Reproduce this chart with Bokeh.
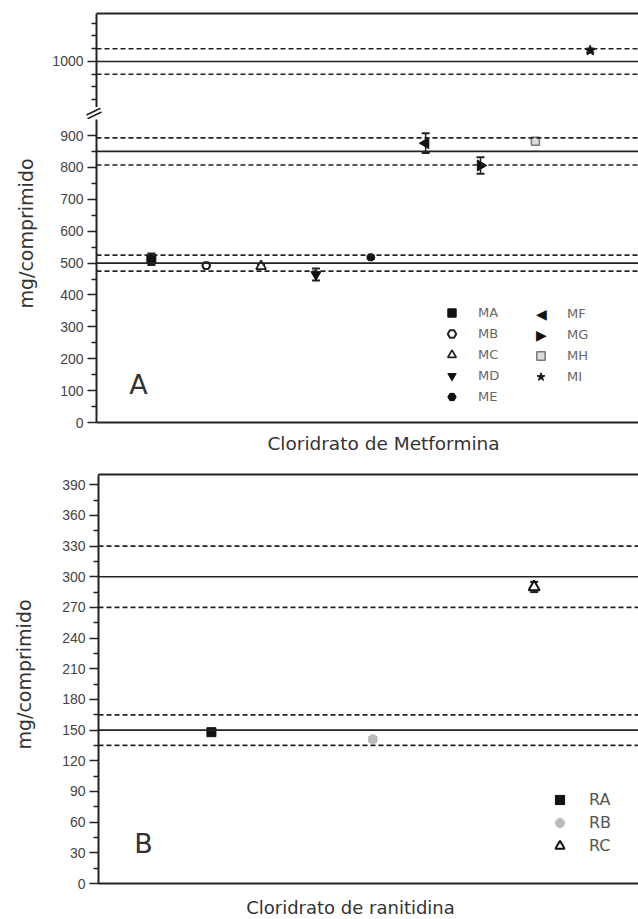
import math
from bokeh.plotting import figure
from bokeh.models import (Range1d, LinearAxis, FixedTicker, Span, Label, Legend,
                          LegendItem, ColumnDataSource, Spacer)
from bokeh.layouts import column, row
from bokeh.embed import file_html
from bokeh.resources import INLINE

# ---------------- data ----------------
met_labels = ["MA", "MB", "MC", "MD", "ME", "MF", "MG", "MH", "MI"]
met_x = [1, 2, 3, 4, 5, 6, 7, 8, 9]
met_values = [512, 492, 490, 464, 518, 876, 806, 882, 1043]
met_err = [18, 6, 5, 19, 5, 31, 26, 4, 8]
met_nominal = [500, 850, 1000]
met_limits = [475, 525, 807.5, 892.5, 950, 1050]
met_lower_ticks = [0, 100, 200, 300, 400, 500, 600, 700, 800, 900]
met_lower_minor = [50, 150, 250, 350, 450, 550, 650, 750, 850]
met_upper_ticks = [1000]
met_upper_minor = [850, 900, 950, 1050, 1100, 1150]
met_split = 940  # axis break: values above it belong to the upper segment

ran_labels = ["RA", "RB", "RC"]
ran_x = [1, 2, 3]
ran_values = [148, 141, 290]
ran_err = [2, 2, 5]
ran_nominal = [150, 300]
ran_limits = [135, 165, 270, 330]
ran_ticks = [0, 30, 60, 90, 120, 150, 180, 210, 240, 270, 300, 330, 360, 390]
ran_minor = [15, 45, 75, 105, 135, 165, 195, 225, 255, 285, 315, 345, 375]

# ---------------- styles / layout constants ----------------
INK = "#222222"
TICK_FONT = "Liberation Sans"
TITLE_FONT = "DejaVu Sans"
met_markers = ["square", "hex", "triangle", "inverted_triangle", "hex",
               "triangle", "triangle", "square", "star"]
met_angles = [0, 0, 0, 0, 0, math.pi / 2, -math.pi / 2, 0, 0]
met_fill = ["#111111", "#ffffff", "#ffffff", "#111111", "#111111",
            "#111111", "#111111", "#dddddd", "#111111"]
met_line = ["#111111", "#222222", "#222222", "#111111", "#111111",
            "#111111", "#111111", "#777777", "#111111"]
met_size = [9, 8, 10, 10, 8, 11, 11, 8, 11]
met_lw = [1, 2, 1.8, 1, 1, 1, 1, 1.5, 1]
met_legend_symbol = {5: "\u25C0", 6: "\u25B6"}  # legend glyphs for the rotated markers

ran_markers = ["square", "circle", "triangle"]
ran_fill = ["#111111", "#bbbbbb", "#ffffff"]
ran_line = ["#111111", "#bbbbbb", "#111111"]
ran_size = [9, 9, 11]
ran_lw = [1, 1, 2]

W = 638
# axis-break decoration (page pixels inside the break strip)
BREAK_X0 = [86, 87]
BREAK_Y0 = [114.5, 118.2]
BREAK_X1 = [100, 101]
BREAK_Y1 = [107.8, 111.5]


def base_fig(fw, fh, xr, yr, left, top, bottom):
    p = figure(frame_width=fw, frame_height=fh, x_range=xr, y_range=yr,
               min_border_left=left, min_border_right=0, min_border_top=top,
               min_border_bottom=bottom, x_axis_location=None, y_axis_location=None,
               toolbar_location=None, output_backend="svg")
    p.outline_line_color = None
    p.background_fill_color = "white"
    p.border_fill_color = "white"
    p.grid.visible = False
    return p


def strip(x0, width, y0, height):
    """Blank figure whose data coordinates are page pixels (for titles/marks)."""
    t = figure(frame_width=width, frame_height=height, x_range=Range1d(x0, x0 + width),
               y_range=Range1d(y0 + height, y0), min_border=0, x_axis_location=None,
               y_axis_location=None, toolbar_location=None, output_backend="svg")
    t.outline_line_color = None
    t.grid.visible = False
    return t


def left_axis(p, ticks, minor):
    ax = LinearAxis(ticker=FixedTicker(ticks=ticks, minor_ticks=minor))
    ax.axis_line_color = INK
    ax.axis_line_width = 2
    ax.major_tick_line_color = INK
    ax.major_tick_line_width = 1.5
    ax.major_tick_out = 9
    ax.major_tick_in = 0
    ax.minor_tick_line_color = INK
    ax.minor_tick_line_width = 1.5
    ax.minor_tick_out = 5
    ax.minor_tick_in = 0
    ax.major_label_text_font = TICK_FONT
    ax.major_label_text_font_size = "14px"
    ax.major_label_text_color = "#444444"
    ax.major_label_standoff = 4
    p.add_layout(ax, "left")


def frame_line(p, side):
    ax = LinearAxis(ticker=FixedTicker(ticks=[]))
    ax.axis_line_color = INK
    ax.axis_line_width = 2
    ax.major_tick_line_color = None
    ax.minor_tick_line_color = None
    ax.major_tick_out = 0
    ax.major_tick_in = 0
    ax.minor_tick_out = 0
    ax.minor_tick_in = 0
    ax.major_label_standoff = 0
    ax.axis_label_standoff = 0
    ax.major_label_text_font_size = "0px"
    p.add_layout(ax, side)


def spans(p, nominal, limits, keep):
    for v in nominal:
        if keep(v):
            p.add_layout(Span(location=v, dimension="width", line_color=INK, line_width=1.7))
    for v in limits:
        if keep(v):
            p.add_layout(Span(location=v, dimension="width", line_color=INK,
                              line_width=1.7, line_dash="5 3"))


def series(p, src, marker, angle, fill, line, size, lw):
    p.segment(x0="x", y0="lo", x1="x", y1="hi", source=src, line_color=INK, line_width=1.5)
    p.scatter(x="x", y="lo", source=src, marker="dash", size=8, line_color=INK, line_width=2)
    p.scatter(x="x", y="hi", source=src, marker="dash", size=8, line_color=INK, line_width=2)
    return p.scatter(x="x", y="y", source=src, marker=marker, angle=angle, size=size,
                     fill_color=fill, line_color=line, line_width=lw)


def point_source(x, v, e):
    return ColumnDataSource(dict(x=[x], y=[v], lo=[v - e], hi=[v + e]))


def make_legend(items, loc, margin, gh, gw, standoff, label_w, fsize, color):
    return Legend(items=items, location=loc, margin=margin, glyph_width=gw, glyph_height=gh,
                  label_height=gh, label_width=label_w, label_standoff=standoff, spacing=0,
                  padding=0, border_line_color=None, background_fill_alpha=0,
                  label_text_font=TITLE_FONT, label_text_font_size=fsize,
                  label_text_color=color)


def text_label(x, y, text, size, angle=0.0, color="#333333"):
    return Label(x=x, y=y, text=text, angle=angle, text_align="center",
                 text_baseline="middle", text_font=TITLE_FONT, text_font_size=size,
                 text_color=color)


# ---------------- panel A (broken axis: upper + lower segment) ----------------
xr_a = Range1d(0, 9.88)
pa_up = base_fig(542, 94, xr_a, Range1d(819.6, 1188.2), 48, 13, 0)
pa_lo = base_fig(542, 303, xr_a, Range1d(0, 950.2), 48, 0, 9)

left_axis(pa_up, met_upper_ticks, met_upper_minor)
left_axis(pa_lo, met_lower_ticks, met_lower_minor)
frame_line(pa_up, "above")
frame_line(pa_lo, "below")

spans(pa_up, met_nominal, met_limits, lambda v: v >= met_split)
spans(pa_lo, met_nominal, met_limits, lambda v: v < met_split)

lo_renderers = []
ghost = {}
for i in range(len(met_labels)):
    src = point_source(met_x[i], met_values[i], met_err[i])
    if met_values[i] >= met_split:
        series(pa_up, src, met_markers[i], met_angles[i], met_fill[i],
               met_line[i], met_size[i], met_lw[i])
    # the lower segment gets every series (values above its range are clipped away)
    r = series(pa_lo, src, met_markers[i], met_angles[i], met_fill[i],
               met_line[i], met_size[i], met_lw[i])
    lo_renderers.append(r)
    if i in met_legend_symbol:
        ghost[i] = pa_lo.scatter(x="x", y="y", source=src, marker="dot", size=1,
                                 fill_alpha=0, line_alpha=0)

leg1 = make_legend([LegendItem(label=met_labels[i], renderers=[lo_renderers[i]]) for i in range(5)],
                   "bottom_right", 15, 21, 21, 16, 145, "13px", "#666666")
leg2 = make_legend([LegendItem(label=met_labels[i],
                               renderers=[ghost[i] if i in ghost else lo_renderers[i]])
                    for i in range(5, 9)],
                   "bottom_right", 35, 21, 21, 16, 36, "13px", "#666666")
leg2sym = make_legend([LegendItem(label=met_legend_symbol[i], renderers=[ghost[i]])
                       for i in sorted(met_legend_symbol)],
                      "bottom_right", 77, 21, 0, 0, 25, "14px", "#111111")
pa_lo.add_layout(leg1)
pa_lo.add_layout(leg2)
pa_lo.add_layout(leg2sym)

pa_lo.add_layout(text_label(0.766, 119, "A", "27px"))

# axis-break strip between the two segments
brk = strip(0, W, 107, 12)
brk.segment(x0=BREAK_X0, y0=BREAK_Y0, x1=BREAK_X1, y1=BREAK_Y1, line_color=INK, line_width=1.6)

tA = strip(0, 48, 119, 312)
tA.add_layout(text_label(25, 233, "mg/comprimido", "19px", angle=math.pi / 2))

xA = strip(0, W, 431, 40)
xA.add_layout(text_label(383, 443, "Cloridrato de Metformina", "18.5px"))

# ---------------- panel B ----------------
pb = base_fig(540, 409, Range1d(0.3, 3.647), Range1d(0, 400), 50, 3, 9)
left_axis(pb, ran_ticks, ran_minor)
frame_line(pb, "above")
frame_line(pb, "below")
spans(pb, ran_nominal, ran_limits, lambda v: True)

b_renderers = []
for i in range(len(ran_labels)):
    src = point_source(ran_x[i], ran_values[i], ran_err[i])
    b_renderers.append(series(pb, src, ran_markers[i], 0, ran_fill[i], ran_line[i],
                              ran_size[i], ran_lw[i]))

legb = make_legend([LegendItem(label=ran_labels[i], renderers=[b_renderers[i]]) for i in range(3)],
                   (450, 26), 0, 23, 23, 18, 20, "16px", "#555555")
pb.add_layout(legb)
pb.add_layout(text_label(0.579, 39, "B", "27px"))

tB = strip(0, 48, 471, 421)
tB.add_layout(text_label(23, 671, "mg/comprimido", "19px", angle=math.pi / 2))

xB = strip(0, W, 892, 27)
xB.add_layout(text_label(350, 907, "Cloridrato de ranitidina", "18px"))

layout = column(
    row(Spacer(width=48, height=107), pa_up, spacing=0),
    brk,
    row(tA, pa_lo, spacing=0),
    xA,
    row(tB, pb, spacing=0),
    xB,
    spacing=0,
)

with open("out.html", "w") as f:
    f.write(file_html(layout, INLINE))
